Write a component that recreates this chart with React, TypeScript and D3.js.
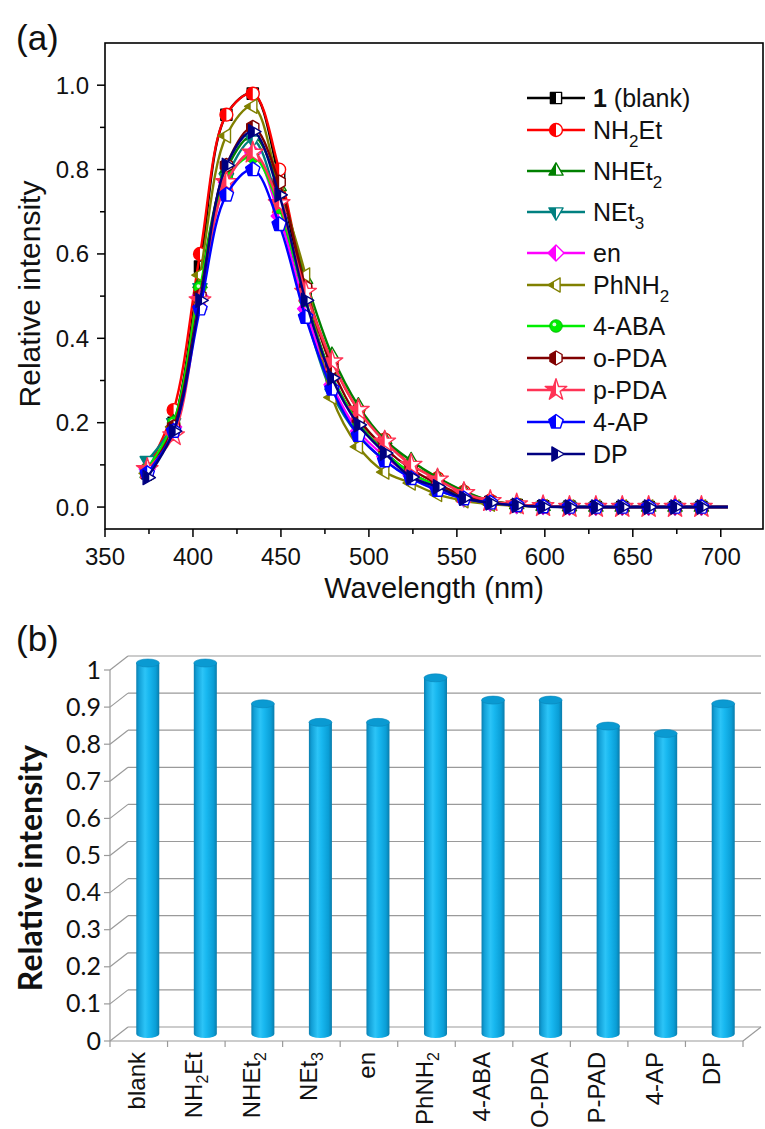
import React from 'react';
import * as d3 from 'd3';

// ---------- Panel (a): emission spectra ----------
const wavelengths = [374, 389, 404, 419, 434, 449, 464, 479, 494, 509, 524, 539, 554, 569, 584, 599, 614, 629, 644, 659, 674, 689, 704];
const markerCount = 22;

const blankValues = [0.08, 0.20, 0.57, 0.93, 0.98, 0.78, 0.50, 0.31, 0.20, 0.13, 0.08, 0.05, 0.025, 0.012, 0.005, 0.002, 0.001, 0, 0, 0, 0, 0, 0];
const nh2etValues = [0.09, 0.23, 0.60, 0.93, 0.98, 0.80, 0.52, 0.345, 0.23, 0.16, 0.10, 0.068, 0.036, 0.015, 0.006, 0.002, 0.001, 0, 0, 0, 0, 0, 0];
const nhet2Values = [0.08, 0.20, 0.53, 0.80, 0.88, 0.76, 0.54, 0.36, 0.24, 0.16, 0.11, 0.07, 0.038, 0.015, 0.006, 0.002, 0.001, 0, 0, 0, 0, 0, 0];
const net3Values = [0.11, 0.20, 0.52, 0.78, 0.87, 0.71, 0.46, 0.27, 0.17, 0.11, 0.07, 0.04, 0.02, 0.01, 0.004, 0.002, 0.001, 0, 0, 0, 0, 0, 0];
const enValues = [0.09, 0.19, 0.50, 0.77, 0.84, 0.69, 0.47, 0.29, 0.18, 0.12, 0.075, 0.045, 0.02, 0.01, 0.004, 0.002, 0, 0, 0, 0, 0, 0, 0];
const phnh2Values = [0.08, 0.19, 0.55, 0.88, 0.95, 0.76, 0.55, 0.26, 0.143, 0.083, 0.057, 0.03, 0.015, 0.007, 0.003, 0.001, 0, 0, 0, 0, 0, 0, 0];
const abaValues = [0.09, 0.20, 0.52, 0.78, 0.83, 0.71, 0.49, 0.31, 0.20, 0.13, 0.08, 0.05, 0.025, 0.011, 0.005, 0.002, 0, 0, 0, 0, 0, 0, 0];
const opdaValues = [0.08, 0.19, 0.50, 0.81, 0.90, 0.77, 0.52, 0.33, 0.21, 0.14, 0.09, 0.055, 0.027, 0.012, 0.005, 0.002, 0, 0, 0, 0, 0, 0, 0];
const ppdaValues = [0.09, 0.17, 0.49, 0.77, 0.84, 0.72, 0.51, 0.345, 0.23, 0.155, 0.10, 0.065, 0.033, 0.014, 0.006, 0.002, 0, 0, 0, 0, 0, 0, 0];
const apValues = [0.08, 0.18, 0.47, 0.74, 0.80, 0.67, 0.45, 0.28, 0.17, 0.11, 0.068, 0.04, 0.02, 0.01, 0.004, 0.001, 0, 0, 0, 0, 0, 0, 0];
const dpValues = [0.07, 0.18, 0.49, 0.81, 0.89, 0.74, 0.49, 0.306, 0.195, 0.128, 0.071, 0.048, 0.021, 0.01, 0.004, 0.001, 0, 0, 0, 0, 0, 0, 0];

const seriesNames = ['1 (blank)', 'NH_2Et', 'NHEt_2', 'NEt_3', 'en', 'PhNH_2', '4-ABA', 'o-PDA', 'p-PDA', '4-AP', 'DP'];
const seriesValues = [blankValues, nh2etValues, nhet2Values, net3Values, enValues, phnh2Values, abaValues, opdaValues, ppdaValues, apValues, dpValues];
const seriesColors = ['#000000', '#ff0000', '#008000', '#008080', '#ff00ff', '#808000', '#00ee00', '#800000', '#ff3355', '#0000ff', '#000080'];
const seriesShapes = ['square', 'circle', 'triangleUp', 'triangleDown', 'diamond', 'triangleLeft', 'ball', 'hexagon', 'star', 'pentagon', 'triangleRight'];

const xTicksA = [350, 400, 450, 500, 550, 600, 650, 700];
const xMinorA = [375, 425, 475, 525, 575, 625, 675];
const yTicksA = [0, 0.2, 0.4, 0.6, 0.8, 1.0];
const yMinorA = [0.1, 0.3, 0.5, 0.7, 0.9];

// ---------- Panel (b): bar chart ----------
const barCategories = ['blank', 'NH_2Et', 'NHEt_2', 'NEt_3', 'en', 'PhNH_2', '4-ABA', 'O-PDA', 'P-PAD', '4-AP', 'DP'];
const barValues = [1.0, 1.0, 0.89, 0.84, 0.84, 0.96, 0.90, 0.90, 0.83, 0.81, 0.89];
const yTicksB = [0, 0.1, 0.2, 0.3, 0.4, 0.5, 0.6, 0.7, 0.8, 0.9, 1];

const fontA = '"Liberation Sans", Arial, sans-serif';
const fontB = 'Lato, "Open Sans", sans-serif';

function polygonPath(n: number, r: number, rotDeg: number): string {
  const pts = d3.range(n).map((i) => {
    const a = ((rotDeg + (i * 360) / n) * Math.PI) / 180;
    return [r * Math.cos(a), r * Math.sin(a)];
  });
  return 'M' + pts.map((p) => p[0].toFixed(2) + ',' + p[1].toFixed(2)).join('L') + 'Z';
}

function markerPath(shape: string): string {
  switch (shape) {
    case 'square': return d3.symbol(d3.symbolSquare, 125)() as string;
    case 'circle': return d3.symbol(d3.symbolCircle, 130)() as string;
    case 'triangleUp': return polygonPath(3, 8.2, -90);
    case 'triangleDown': return polygonPath(3, 8.2, 90);
    case 'triangleLeft': return polygonPath(3, 8.2, 180);
    case 'triangleRight': return polygonPath(3, 8.2, 0);
    case 'diamond': return polygonPath(4, 8.0, -90);
    case 'hexagon': return polygonPath(6, 7.0, -90);
    case 'pentagon': return polygonPath(5, 7.5, -90);
    case 'star': return d3.symbol(d3.symbolStar, 145)() as string;
    default: return d3.symbol(d3.symbolCircle, 130)() as string;
  }
}

function Marker({ x, y, shape, color }: { x: number; y: number; shape: string; color: string }) {
  if (shape === 'ball') {
    return (
      <g transform={`translate(${x},${y})`}>
        <circle r={6.3} fill={color} stroke="#00b000" strokeWidth={0.8} />
        <circle cx={-1.6} cy={-1.6} r={1.9} fill="#ffffff" opacity={0.85} />
      </g>
    );
  }
  const d = markerPath(shape);
  return (
    <g transform={`translate(${x},${y})`}>
      <path d={d} fill="#ffffff" stroke={color} strokeWidth={1.4} strokeLinejoin="round" />
      <path d={d} fill={color} clipPath="url(#leftHalf)" />
    </g>
  );
}

function SubText({ label, subSize, shift }: { label: string; subSize: number; shift: number }) {
  const parts = label.split(/_(\d)/);
  return (
    <>
      {parts.map((p, i) =>
        i % 2 === 1 ? (
          <tspan key={i} fontSize={subSize} dy={shift}>{p}</tspan>
        ) : (
          <tspan key={i} dy={i > 0 ? -shift : 0}>{p}</tspan>
        )
      )}
    </>
  );
}

export default function App() {
  // Panel (a) scales
  const xA = d3.scaleLinear().domain([350, 724]).range([105, 763]);
  const yA = d3.scaleLinear().domain([-0.052, 1.1]).range([529, 43]);
  const line = d3
    .line<[number, number]>()
    .x((d) => xA(d[0]))
    .y((d) => yA(d[1]))
    .curve(d3.curveCatmullRom.alpha(0.5));

  // Legend rows
  const legendY: number[] = [];
  seriesNames.forEach((n, i) => {
    if (i === 0) legendY.push(98);
    else legendY.push(legendY[i - 1] + 32 + (seriesNames[i - 1].includes('_') ? 9 : 0));
  });

  // Panel (b) scales
  const frontL = 110;
  const frontR = 743;
  const depthX = 18;
  const depthY = -14;
  const yB = d3.scaleLinear().domain([0, 1]).range([1041, 670]);
  const xB = d3
    .scaleBand<string>()
    .domain(barCategories)
    .range([frontL + depthX / 2, frontR + depthX / 2])
    .paddingInner(0.6)
    .paddingOuter(0.3);
  const bw = xB.bandwidth();
  const step = (frontR - frontL) / barCategories.length;
  const boundaries = d3.range(barCategories.length + 1).map((i) => frontL + i * step);
  const gridColor = '#9a9a9a';

  return (
    <svg
      width={765}
      height={1129}
      viewBox="0 0 765 1129"
      style={{ position: 'absolute', left: 0, top: 0, background: '#ffffff' }}
    >
      <defs>
        <clipPath id="leftHalf" clipPathUnits="objectBoundingBox">
          <rect x={0} y={0} width={0.5} height={1} />
        </clipPath>
        <linearGradient id="cyl" x1="0" x2="1" y1="0" y2="0">
          <stop offset="0%" stopColor="#0a7fb0" />
          <stop offset="12%" stopColor="#129fd6" />
          <stop offset="38%" stopColor="#2cc4f7" />
          <stop offset="55%" stopColor="#18b8f0" />
          <stop offset="85%" stopColor="#0a9ed6" />
          <stop offset="100%" stopColor="#0a7cab" />
        </linearGradient>
      </defs>

      {/* ================= Panel (a) ================= */}
      <text x={16} y={50} fontFamily={fontA} fontSize={35} fill="#111">(a)</text>

      {seriesValues.map((vals, si) => {
        const pts = wavelengths.map((w, i) => [w, vals[i]] as [number, number]);
        return (
          <g key={si}>
            <path d={line(pts) as string} fill="none" stroke={seriesColors[si]} strokeWidth={2.4} />
            {pts.slice(0, markerCount).map((p, i) => (
              <Marker key={i} x={xA(p[0])} y={yA(p[1])} shape={seriesShapes[si]} color={seriesColors[si]} />
            ))}
          </g>
        );
      })}

      {/* frame */}
      <rect x={105} y={43} width={658} height={486} fill="none" stroke="#000" strokeWidth={1.6} />

      {/* x ticks */}
      {xTicksA.map((t) => (
        <g key={t}>
          <line x1={xA(t)} x2={xA(t)} y1={529} y2={537} stroke="#000" strokeWidth={1.5} />
          <text x={xA(t)} y={565} textAnchor="middle" fontFamily={fontA} fontSize={24} fill="#111">{t}</text>
        </g>
      ))}
      {xMinorA.map((t) => (
        <line key={t} x1={xA(t)} x2={xA(t)} y1={529} y2={534} stroke="#000" strokeWidth={1.5} />
      ))}
      {/* y ticks */}
      {yTicksA.map((t) => (
        <g key={t}>
          <line x1={97} x2={105} y1={yA(t)} y2={yA(t)} stroke="#000" strokeWidth={1.5} />
          <text x={89} y={yA(t) + 8.5} textAnchor="end" fontFamily={fontA} fontSize={24} fill="#111">{d3.format('.1f')(t)}</text>
        </g>
      ))}
      {yMinorA.map((t) => (
        <line key={t} x1={100} x2={105} y1={yA(t)} y2={yA(t)} stroke="#000" strokeWidth={1.5} />
      ))}

      <text x={434} y={598} textAnchor="middle" fontFamily={fontA} fontSize={29} fill="#111">Wavelength (nm)</text>
      <text transform={`translate(40,294) rotate(-90)`} textAnchor="middle" fontFamily={fontA} fontSize={30} fill="#111">Relative intensity</text>

      {/* legend */}
      {seriesNames.map((name, i) => (
        <g key={name}>
          <line x1={527} x2={585} y1={legendY[i]} y2={legendY[i]} stroke={seriesColors[i]} strokeWidth={2.4} />
          <Marker x={556} y={legendY[i]} shape={seriesShapes[i]} color={seriesColors[i]} />
          <text x={593} y={legendY[i] + 9} fontFamily={fontA} fontSize={25} fill="#111">
            {i === 0 ? (
              <>
                <tspan fontWeight="bold">1</tspan>
                <tspan> (blank)</tspan>
              </>
            ) : (
              <SubText label={name} subSize={17} shift={8} />
            )}
          </text>
        </g>
      ))}

      {/* ================= Panel (b) ================= */}
      <text x={16} y={651} fontFamily={fontA} fontSize={35} fill="#111">(b)</text>

      {/* back wall gridlines and left wall diagonals */}
      {yTicksB.map((t) => (
        <g key={t}>
          <line x1={frontL} y1={yB(t)} x2={frontL + depthX} y2={yB(t) + depthY} stroke={gridColor} strokeWidth={1.2} />
          <line x1={frontL + depthX} y1={yB(t) + depthY} x2={frontR + depthX} y2={yB(t) + depthY} stroke={gridColor} strokeWidth={1.2} />
          <line x1={frontL - 6} x2={frontL} y1={yB(t)} y2={yB(t)} stroke={gridColor} strokeWidth={1.2} />
          <text x={frontL - 9} y={yB(t) + 8.5} textAnchor="end" fontFamily={fontB} fontSize={25} fill="#111">{String(t)}</text>
        </g>
      ))}
      {/* left axis line */}
      <line x1={frontL} x2={frontL} y1={yB(0)} y2={yB(1)} stroke={gridColor} strokeWidth={1.2} />
      {/* floor */}
      <line x1={frontL} x2={frontR} y1={yB(0)} y2={yB(0)} stroke={gridColor} strokeWidth={1.2} />
      <line x1={frontR} y1={yB(0)} x2={frontR + depthX} y2={yB(0) + depthY} stroke={gridColor} strokeWidth={1.2} />
      {boundaries.map((bx, i) => (
        <line key={i} x1={bx} x2={bx} y1={yB(0)} y2={yB(0) + 6} stroke={gridColor} strokeWidth={1.2} />
      ))}

      {/* cylinders */}
      {barCategories.map((c, i) => {
        const cx = (xB(c) as number) + bw / 2;
        const rx = bw / 2;
        const ry = 4;
        const top = yB(barValues[i]) + depthY / 2;
        const bottom = yB(0) + depthY / 2;
        const body = `M${cx - rx},${top} L${cx - rx},${bottom} A${rx},${ry} 0 0 0 ${cx + rx},${bottom} L${cx + rx},${top} Z`;
        return (
          <g key={c}>
            <path d={body} fill="url(#cyl)" />
            <ellipse cx={cx} cy={top} rx={rx} ry={ry} fill="#0a9ad2" stroke="#0a86ba" strokeWidth={0.6} />
          </g>
        );
      })}

      {/* category labels */}
      {barCategories.map((c) => {
        const cx = (xB(c) as number) + bw / 2 - 3;
        return (
          <text
            key={c}
            transform={`translate(${cx},1052) rotate(-90)`}
            textAnchor="end"
            dy="0.36em"
            fontFamily={fontA}
            fontSize={24}
            fill="#111"
          >
            <SubText label={c} subSize={16} shift={6} />
          </text>
        );
      })}

      <text transform={`translate(42,868) rotate(-90)`} textAnchor="middle" fontFamily={fontB} fontWeight="bold" fontSize={32} fill="#111">Relative intensity</text>
    </svg>
  );
}
